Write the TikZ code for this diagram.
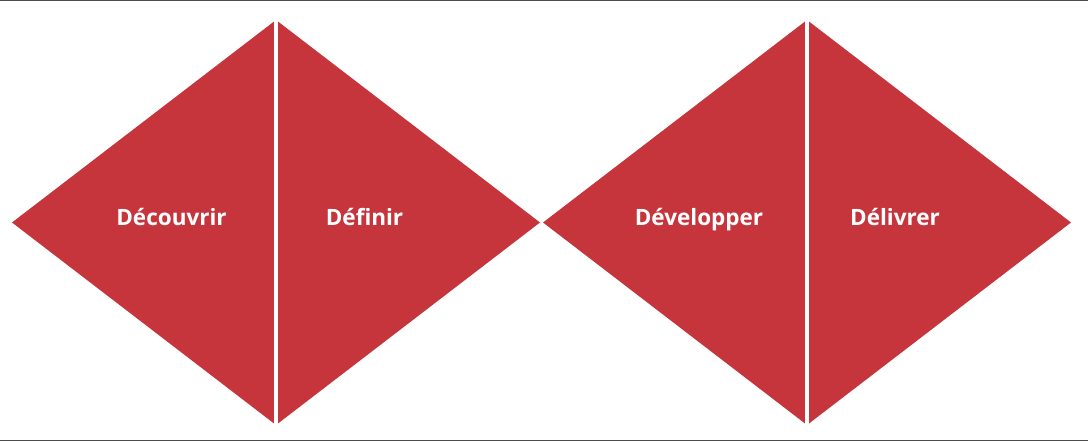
\documentclass[tikz,border=0pt]{standalone}
\usepackage{fontspec}
\setmainfont{Open Sans}
\usetikzlibrary{shapes.geometric}
\definecolor{phase}{RGB}{198,52,60}

\begin{document}
\begin{tikzpicture}[
    x=1pt, y=1pt,
    stage/.style={diamond, fill=phase, draw=none, inner sep=0pt, outer sep=0pt, minimum width=528pt, minimum height=405pt},
    phaselabel/.style={text=white, anchor=base, inner sep=0pt, font=\bfseries\fontsize{22.5}{25}\selectfont},
    divider/.style={draw=white, line width=4pt},
    frame/.style={draw=black!70, line width=1.5pt}
]

\useasboundingbox (0,0) rectangle (1088,442);

\node[stage] (D1) at (276, 219.5) {};
\node[stage] (D2) at (807, 219.5) {};

% Dividers

\draw[divider] (D1.north) -- (D1.south);
\draw[divider] (D2.north) -- (D2.south);

\node[phaselabel] (decouvrir) at (171.5, 216) {Découvrir};
\node[phaselabel] (definir) at (364.5, 216) {Définir};
\node[phaselabel] (developper) at (699, 216) {Développer};
\node[phaselabel] (delivrer) at (895, 216) {Délivrer};

% Frame

\draw[frame] (0, 441.5) -- (1088, 441.5);
\draw[frame] (0, 1.5) -- (1088, 1.5);

\end{tikzpicture}
\end{document}
